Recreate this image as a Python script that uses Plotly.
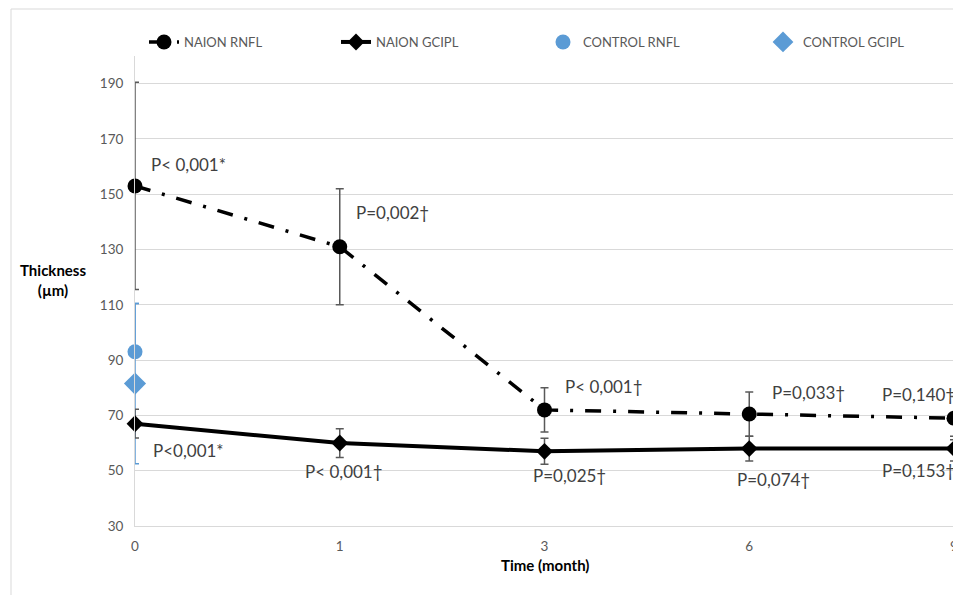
import plotly.graph_objects as go

# ---- data ----
time_labels = ["0", "1", "3", "6", "9"]
x_idx = [0, 1, 2, 3, 4]
naion_rnfl = [153, 131, 72, 70.5, 69]
naion_rnfl_err = [37.5, 21, 8, 8, 7.8]
naion_gcipl = [67, 60, 57, 58, 58]
naion_gcipl_err = [5.2, 5.2, 4.7, 4.5, 4.5]
control_rnfl = [93]
control_rnfl_err_plus = [17.5]
control_rnfl_err_minus = [0]
control_gcipl = [81.5]
control_gcipl_err = [29]

p_rnfl = ["P< 0,001*", "P=0,002\u2020", "P< 0,001\u2020", "P=0,033\u2020", "P=0,140\u2020"]
p_gcipl = ["P<0,001*", "P< 0,001\u2020", "P=0,025\u2020", "P=0,074\u2020", "P=0,153\u2020"]

# label positions (layout only)
p_rnfl_pos = [(0.07, 160.9), (1.072, 143.5), (2.09, 80.4), (3.1, 78.2), (3.64, 77.6)]
p_gcipl_pos = [(0.078, 57.2), (0.82, 49.6), (1.935, 48.4), (2.93, 46.9), (3.64, 50.2)]

FONT = "Lato"
BLUE = "#5B9BD5"
ERRC = "#595959"
GRID = "#d9d9d9"

# page body has an 8px margin: figure is drawn from (8, 8)
OFF = 8
FIG_W, FIG_H = 961 - OFF, 595 - OFF
PL, PR, PT, PB = 135, 954, 56, 526   # plot area in window pixels

fig = go.Figure()

fig.add_trace(go.Scatter(
    x=[0], y=control_rnfl, mode="markers", name="CONTROL RNFL",
    marker=dict(symbol="circle", size=15, color=BLUE),
    error_y=dict(type="data", symmetric=False, array=control_rnfl_err_plus,
                 arrayminus=control_rnfl_err_minus, color=BLUE, thickness=1.5, width=4),
    cliponaxis=False, legend="legend3"))
fig.add_trace(go.Scatter(
    x=[0], y=control_gcipl, mode="markers", name="CONTROL GCIPL",
    marker=dict(symbol="diamond", size=17, color=BLUE),
    error_y=dict(type="data", array=control_gcipl_err, color=BLUE, thickness=1.5, width=4),
    cliponaxis=False, legend="legend4"))
fig.add_trace(go.Scatter(
    x=x_idx, y=naion_rnfl, mode="lines+markers", name="NAION RNFL",
    line=dict(color="black", width=3.5, dash="16px,12px,3px,12px"),
    marker=dict(symbol="circle", size=15, color="black"),
    error_y=dict(type="data", array=naion_rnfl_err, color=ERRC, thickness=1.5, width=4),
    cliponaxis=False, legend="legend"))
fig.add_trace(go.Scatter(
    x=x_idx, y=naion_gcipl, mode="lines+markers", name="NAION GCIPL",
    line=dict(color="black", width=4),
    marker=dict(symbol="diamond", size=13, color="black"),
    error_y=dict(type="data", array=naion_gcipl_err, color=ERRC, thickness=1.5, width=4),
    cliponaxis=False, legend="legend2"))

annotations = []
for txt, (ax, ay) in zip(p_rnfl + p_gcipl, p_rnfl_pos + p_gcipl_pos):
    annotations.append(dict(x=ax, y=ay, xref="x", yref="y", text=txt, showarrow=False,
                            xanchor="left", yanchor="middle",
                            font=dict(family=FONT, size=17, color="#404040")))

W = PR - PL
H = PB - PT
def px2x(px):
    return (px - PL) / W
def py2y(py):
    return (PB - py) / H

annotations.append(dict(x=px2x(53), y=py2y(280), xref="paper", yref="paper",
                        text="<b>Thickness</b><br><b>(\u00b5m)</b>", showarrow=False,
                        xanchor="center", yanchor="middle", align="center",
                        font=dict(family=FONT, size=15, color="black")))
annotations.append(dict(x=px2x(545), y=py2y(565), xref="paper", yref="paper",
                        text="<b>Time (month)</b>", showarrow=False,
                        xanchor="center", yanchor="middle",
                        font=dict(family=FONT, size=15, color="black")))

leg_common = dict(orientation="h", yanchor="middle", y=py2y(42), xanchor="left",
                  font=dict(family=FONT, size=13, color="#595959"),
                  bgcolor="rgba(0,0,0,0)", borderwidth=0)

fig.update_layout(
    width=FIG_W, height=FIG_H,
    margin=dict(l=PL - OFF, r=961 - PR, t=PT - OFF, b=FIG_H - (PB - OFF)),
    paper_bgcolor="white", plot_bgcolor="white",
    showlegend=True,
    legend=dict(x=px2x(144), **leg_common),
    legend2=dict(x=px2x(336), **leg_common),
    legend3=dict(x=px2x(543), **leg_common),
    legend4=dict(x=px2x(763), **leg_common),
    xaxis=dict(range=[0, 4], tickvals=x_idx, ticktext=time_labels,
               showgrid=False, zeroline=False, showline=True, linecolor=GRID, linewidth=1,
               ticks="outside", ticklen=8, tickcolor="rgba(0,0,0,0)",
               ticklabeloverflow="allow",
               tickfont=dict(family=FONT, size=13.5, color="#595959"), automargin=False),
    yaxis=dict(range=[30, 200], tickvals=[30, 50, 70, 90, 110, 130, 150, 170, 190],
               showgrid=True, gridcolor=GRID, gridwidth=1, zeroline=False,
               showline=True, linecolor=GRID, linewidth=1,
               ticks="outside", ticklen=8, tickcolor="rgba(0,0,0,0)",
               tickfont=dict(family=FONT, size=13.5, color="#595959"), automargin=False),
    annotations=annotations,
    shapes=[dict(type="rect", xref="paper", yref="paper",
                 x0=px2x(11), x1=1.3, y0=-0.3, y1=py2y(9),
                 line=dict(color=GRID, width=1), fillcolor="rgba(0,0,0,0)", layer="below")],
)

fig.write_html("out.html")
